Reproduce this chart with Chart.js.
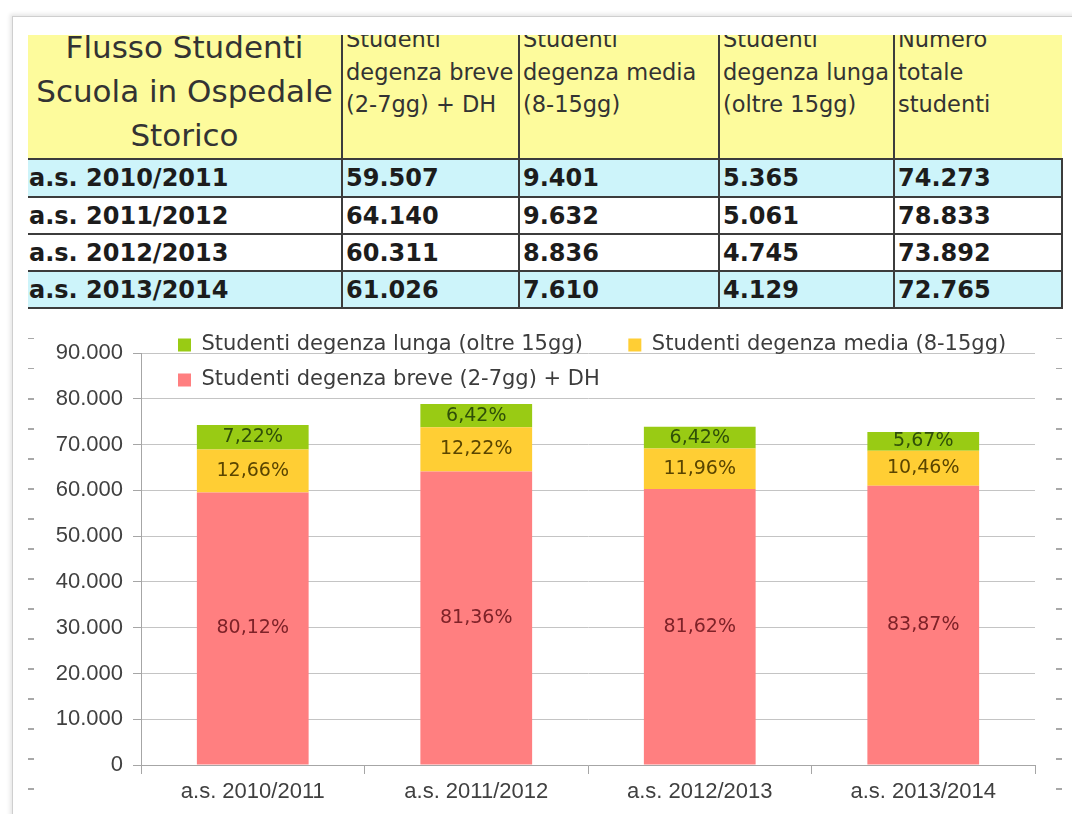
<!DOCTYPE html>
<html lang="it">
<head>
<meta charset="utf-8">
<title>Flusso Studenti Scuola in Ospedale</title>
<script src="https://cdn.jsdelivr.net/npm/chart.js@4.4.1/dist/chart.umd.min.js"></script>
<style>
  html, body { margin: 0; padding: 0; background: #fff; }
  body { width: 1072px; height: 814px; position: relative; overflow: hidden; font-family: "DejaVu Sans", sans-serif; }
  #cornice { position: absolute; left: 12px; top: 16px; width: 1200px; height: 1000px;
    border-top: 1px solid #cfcfcf; border-left: 1px solid #cfcfcf; box-shadow: -2px -2px 4px rgba(0,0,0,0.10); }
  .trattini { position: absolute; top: 338px; width: 6px; height: 476px;
    background: repeating-linear-gradient(to bottom, #a8a8a8 0 1.5px, transparent 1.5px 30px); }
  #tabella { position: absolute; left: 28px; top: 35px; width: 1034px; border-collapse: collapse; table-layout: fixed; }
  #tabella th { background: #fdfb9c; height: 123px; padding: 0; vertical-align: top; font-weight: normal;
    color: #333; border-bottom: 2px solid #3c3c3c; text-align: left; }
  #tabella th + th, #tabella td + td { border-left: 2px solid #3c3c3c; }
  #tabella th div { height: 123px; overflow: hidden; }
  #tabella th.titolo div span { display: block; margin-top: -10px; font-size: 31px; line-height: 44px; text-align: center; }
  #tabella th.col div span { display: block; margin-top: -12px; padding-left: 3px; font-size: 22.5px; line-height: 32.5px; white-space: nowrap; }
  #tabella td { height: 35px; padding: 0 0 0 3px; font-weight: bold; font-size: 24px; color: #1c1c1c;
    border-bottom: 2px solid #3c3c3c; white-space: nowrap; }
  #tabella tr:first-child td { height: 36px; }
  #tabella td:first-child { padding-left: 1px; }
  #tabella td:last-child { border-right: 2px solid #3c3c3c; }
  #tabella tr.azzurro td { background: #cdf4fa; }
  #contenitore { position: absolute; left: 0; top: 320px; width: 1072px; height: 494px; }
</style>
</head>
<body>
<div id="cornice"></div>
<div class="trattini" style="left:28px"></div>
<div class="trattini" style="left:1056px"></div>

<table id="tabella">
  <colgroup>
    <col style="width:314px"><col style="width:177px"><col style="width:200px"><col style="width:175px"><col style="width:168px">
  </colgroup>
  <thead>
    <tr>
      <th class="titolo"><div><span>Flusso Studenti<br>Scuola in Ospedale<br>Storico</span></div></th>
      <th class="col"><div><span>Studenti<br>degenza breve<br>(2-7gg) + DH</span></div></th>
      <th class="col"><div><span>Studenti<br>degenza media<br>(8-15gg)</span></div></th>
      <th class="col"><div><span>Studenti<br>degenza lunga<br>(oltre 15gg)</span></div></th>
      <th class="col"><div><span>Numero<br>totale<br>studenti</span></div></th>
    </tr>
  </thead>
  <tbody id="corpo"></tbody>
</table>

<div id="contenitore"><canvas id="grafico"></canvas></div>

<script>
// dati
const anni = ['a.s. 2010/2011', 'a.s. 2011/2012', 'a.s. 2012/2013', 'a.s. 2013/2014'];
const degenzaBreve = [59507, 64140, 60311, 61026];
const degenzaMedia = [9401, 9632, 8836, 7610];
const degenzaLunga = [5365, 5061, 4745, 4129];
const totali = [74273, 78833, 73892, 72765];
const righeAzzurre = [0, 3];

const ticksY = [0, 10000, 20000, 30000, 40000, 50000, 60000, 70000, 80000, 90000];

function migliaia(n) {
  return String(n).replace(/\B(?=(\d{3})+(?!\d))/g, '.');
}

function percentuale(v, tot) {
  return (v / tot * 100).toFixed(2).replace('.', ',') + '%';
}

// tabella
const corpo = document.getElementById('corpo');
anni.forEach((anno, i) => {
  const tr = document.createElement('tr');
  if (righeAzzurre.includes(i)) tr.className = 'azzurro';
  [anno, migliaia(degenzaBreve[i]), migliaia(degenzaMedia[i]), migliaia(degenzaLunga[i]), migliaia(totali[i])].forEach(t => {
    const td = document.createElement('td');
    td.textContent = t;
    tr.appendChild(td);
  });
  corpo.appendChild(tr);
});

// etichette percentuali dentro le barre
const coloriEtichette = ['#7e2228', '#5a4500', '#2f4f08'];
const etichettePercento = {
  id: 'etichettePercento',
  afterDatasetsDraw(chart) {
    const ctx = chart.ctx;
    ctx.save();
    ctx.font = '19px "DejaVu Sans"';
    ctx.textAlign = 'center';
    ctx.textBaseline = 'middle';
    chart.data.datasets.forEach((ds, i) => {
      const meta = chart.getDatasetMeta(i);
      ctx.fillStyle = coloriEtichette[i];
      meta.data.forEach((bar, j) => {
        const y = (bar.y + bar.base) / 2;
        ctx.fillText(percentuale(ds.data[j], totali[j]), bar.x, y);
      });
    });
    ctx.restore();
  }
};

// la legenda nel riferimento sta sopra l'area del grafico, sovrapposta alla griglia
const spostaLegenda = {
  id: 'spostaLegenda',
  afterLayout(chart) {
    const lg = chart.legend;
    const a = chart.chartArea;
    lg.left = a.left + 23;
    lg.right = a.right + 23;
    lg.top = a.top - 32.5;
    lg.bottom = a.bottom;
  }
};

const fontAssi = { family: '"Liberation Sans", Arial, sans-serif', size: 22 };

new Chart(document.getElementById('grafico'), {
  type: 'bar',
  data: {
    labels: anni,
    datasets: [
      { label: 'Studenti degenza breve (2-7gg) + DH', data: degenzaBreve, backgroundColor: '#ff7f80' },
      { label: 'Studenti degenza media (8-15gg)', data: degenzaMedia, backgroundColor: '#ffce34' },
      { label: 'Studenti degenza lunga (oltre 15gg)', data: degenzaLunga, backgroundColor: '#99cb14' }
    ]
  },
  options: {
    responsive: true,
    maintainAspectRatio: false,
    animation: false,
    devicePixelRatio: 1,
    layout: { padding: { top: 32, right: 37, left: 0, bottom: 0 } },
    datasets: { bar: { categoryPercentage: 1, barPercentage: 0.5, borderWidth: 0 } },
    plugins: {
      tooltip: { enabled: false },
      legend: {
        position: 'top',
        align: 'start',
        reverse: true,
        maxHeight: 1,
        labels: {
          boxWidth: 13,
          boxHeight: 13,
          padding: 14,
          color: '#3c3c3c',
          font: { family: '"DejaVu Sans"', size: 21 },
          generateLabels(chart) {
            const items = Chart.defaults.plugins.legend.labels.generateLabels(chart);
            items.forEach(it => { if (it.datasetIndex === 2) it.text += '\u2003\u2002'; });
            return items;
          }
        }
      }
    },
    scales: {
      x: {
        stacked: true,
        grid: {
          offset: true,
          color: c => c.index === anni.length ? '#b4b4b4' : 'transparent',
          tickColor: '#a6a6a6',
          tickLength: 9
        },
        border: { color: '#a6a6a6' },
        ticks: { font: fontAssi, color: '#404040', padding: 5 },
        afterFit: s => { s.height = 49; }
      },
      y: {
        stacked: true,
        min: 0,
        max: 90000,
        afterBuildTicks: s => { s.ticks = ticksY.map(v => ({ value: v })); },
        grid: { color: '#c4c4c4', tickColor: '#a6a6a6', tickLength: 8 },
        border: { color: '#a6a6a6' },
        ticks: { font: fontAssi, color: '#404040', padding: 10, callback: v => migliaia(v) },
        afterFit: s => { s.width = 141; }
      }
    }
  },
  plugins: [etichettePercento, spostaLegenda]
});
</script>
</body>
</html>
